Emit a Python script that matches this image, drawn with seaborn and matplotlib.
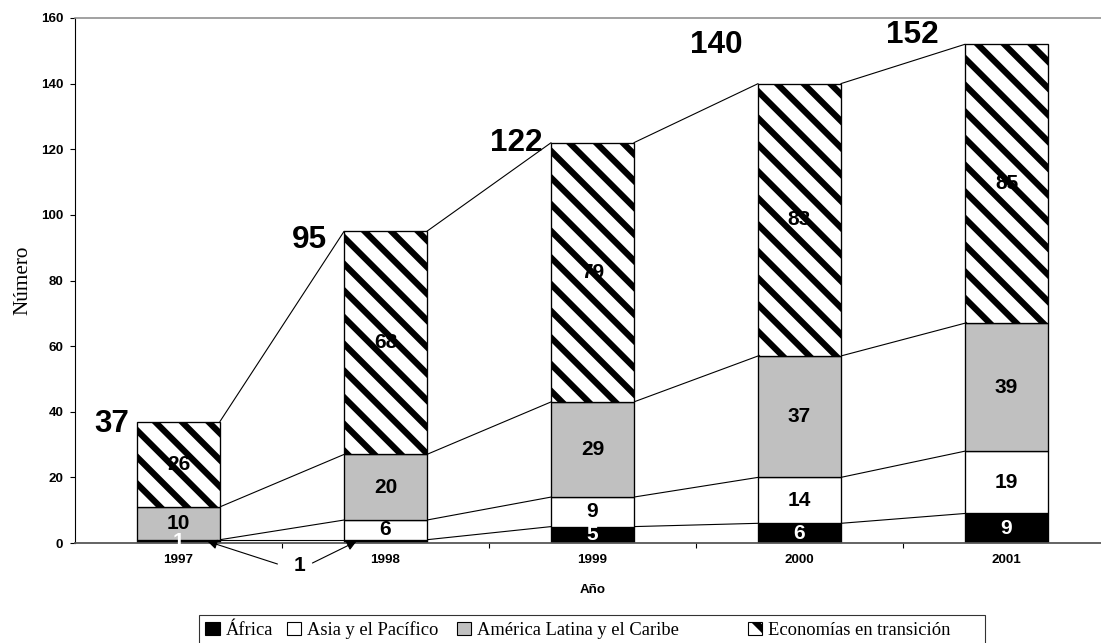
import matplotlib
matplotlib.use("Agg")
import matplotlib.pyplot as plt
from matplotlib.patches import Patch
import numpy as np
import pandas as pd
import seaborn as sns

# ---- data -------------------------------------------------------------
years = ["1997", "1998", "1999", "2000", "2001"]
africa = [1, 1, 5, 6, 9]
asia = [0, 6, 9, 14, 19]
latam = [10, 20, 29, 37, 39]
transicion = [26, 68, 79, 83, 85]
series_names = ["África", "Asia y el Pacífico",
                "América Latina y el Caribe", "Economías en transición"]
y_ticks = [0, 20, 40, 60, 80, 100, 120, 140, 160]

# ---- figure setup -----------------------------------------------------
DPI = 160
W, H = 1101, 643
SANS = ["Liberation Sans", "DejaVu Sans"]
SERIF = ["Liberation Serif", "DejaVu Serif"]

sns.set_style("white")
plt.rcParams["font.family"] = SANS
plt.rcParams["text.color"] = "black"
plt.rcParams["axes.labelcolor"] = "black"
plt.rcParams["xtick.color"] = "black"
plt.rcParams["ytick.color"] = "black"
plt.rcParams["hatch.linewidth"] = 2.8
plt.rcParams["hatch.color"] = "black"

fig = plt.figure(figsize=(W / DPI, H / DPI), dpi=DPI)
ax = fig.add_axes([75 / W, 1 - 543 / H, (W - 75) / W, (543 - 18) / H])

df = pd.DataFrame({"year": years, "africa": africa, "asia": asia,
                   "latam": latam, "transicion": transicion})
layer_cols = ["africa", "asia", "latam", "transicion"]
fills = ["black", "white", "#c0c0c0", "white"]
hatches = [None, None, None, "\\\\"]
label_colors = ["white", "black", "black", "black"]
bar_w = 0.4

# ---- stacked bars -----------------------------------------------------
bottom = np.zeros(len(years))
for col, fc, hatch in zip(layer_cols, fills, hatches):
    sns.barplot(data=df, x="year", y=col, order=years, color=fc,
                saturation=1, width=bar_w, bottom=bottom.copy(),
                edgecolor="black", linewidth=0.6, hatch=hatch,
                errorbar=None, ax=ax, zorder=2)
    bottom = bottom + df[col].to_numpy()

cum = np.cumsum([df[c].to_numpy() for c in layer_cols], axis=0)

# series lines joining the stack levels of neighbouring bars
for level in cum:
    for i in range(len(years) - 1):
        ax.plot([i + bar_w / 2, i + 1 - bar_w / 2], [level[i], level[i + 1]],
                color="black", lw=0.5, zorder=1)

# ---- value labels inside the segments ---------------------------------
for k, cont in enumerate(ax.containers):
    vals = df[layer_cols[k]].to_numpy()
    labs = []
    for i, v in enumerate(vals):
        if v == 0 or (k == 0 and i == 1):
            labs.append("")
        else:
            labs.append(str(v))
    ax.bar_label(cont, labels=labs, label_type="center",
                 color=label_colors[k], fontsize=9.4, fontweight="bold",
                 zorder=5)

# callout for the small África values
ax.text(0.585, -6.9, str(africa[1]), ha="center", va="center",
        fontsize=9.4, fontweight="bold", clip_on=False)
arrow_kw = dict(arrowstyle="-|>", color="black", lw=0.5,
                mutation_scale=9, shrinkA=0, shrinkB=0)
ax.annotate("", xy=(0 + 0.7 * bar_w / 2, africa[0] / 2),
            xytext=(0.478, -6.4), arrowprops=arrow_kw,
            annotation_clip=False)
ax.annotate("", xy=(1 - 0.7 * bar_w / 2, africa[1] / 2),
            xytext=(0.647, -6.1), arrowprops=arrow_kw,
            annotation_clip=False)

# ---- totals -----------------------------------------------------------
total_dx = [-8, -17, -9, -16, -26]
total_dy = [-2, -9, 0, 39, 9]
for i, tot in enumerate(cum[-1]):
    ax.annotate(str(int(tot)), xy=(i - bar_w / 2, tot),
                xytext=(total_dx[i], total_dy[i]), textcoords="offset pixels",
                ha="right", va="center", fontsize=14.2, fontweight="bold",
                annotation_clip=False)

# ---- axes -------------------------------------------------------------
ax.set_xlim(-0.5, -0.5 + (W - 75) / 207)
ax.set_ylim(0, 160)
ax.set_yticks(y_ticks)
ax.set_xticks(np.arange(len(years) - 1) + 0.5)
ax.set_xticklabels([])
ax.set_xticks(np.arange(len(years)), minor=True)
ax.set_xticklabels(years, minor=True)

ax.tick_params(axis="y", left=True, direction="out", length=2.3, width=0.5,
               pad=3, labelsize=6)
ax.tick_params(axis="x", which="major", bottom=True, direction="out",
               length=2.2, width=0.5)
ax.tick_params(axis="x", which="minor", bottom=True, length=0, pad=5,
               labelsize=6)
for lab in ax.get_yticklabels() + ax.get_xticklabels(minor=True):
    lab.set_fontweight("bold")

ax.grid(False)
ax.spines["right"].set_visible(False)
ax.spines["top"].set_color("#8a8a8a")
ax.spines["top"].set_linewidth(0.7)
ax.spines["left"].set_color("black")
ax.spines["left"].set_linewidth(0.5)
ax.spines["bottom"].set_color("#555555")
ax.spines["bottom"].set_linewidth(0.8)

ax.set_ylabel("Número", family=SERIF, fontsize=9.5)
ax.yaxis.set_label_coords((32 - 75) / (W - 75), 0.5)
ax.set_xlabel("Año", fontsize=6, fontweight="bold")
ax.xaxis.set_label_coords((593 - 75) / (W - 75), -(584 - 543) / (543 - 18))

# ---- legend -----------------------------------------------------------
# trailing spaces widen individual columns so the entries sit unevenly,
# the way the legend row is laid out
legend_labels = [series_names[0], series_names[1] + " ",
                 series_names[2] + " " * 12, series_names[3] + " " * 6]
handles = [Patch(facecolor=fc, edgecolor="black", hatch=h, linewidth=0.5)
           for fc, h in zip(fills, hatches)]
leg = fig.legend(handles, legend_labels, loc="upper left",
                 bbox_to_anchor=(199 / W, 1 - 615 / H), ncol=4,
                 frameon=True, fancybox=False, shadow=False,
                 prop={"family": SERIF, "size": 8.3},
                 handlelength=0.78, handleheight=0.72, handletextpad=0.3,
                 columnspacing=0.76, borderpad=0.35, borderaxespad=0)
leg.get_frame().set_edgecolor("black")
leg.get_frame().set_linewidth(0.5)

fig.savefig("out.png", dpi=DPI)
